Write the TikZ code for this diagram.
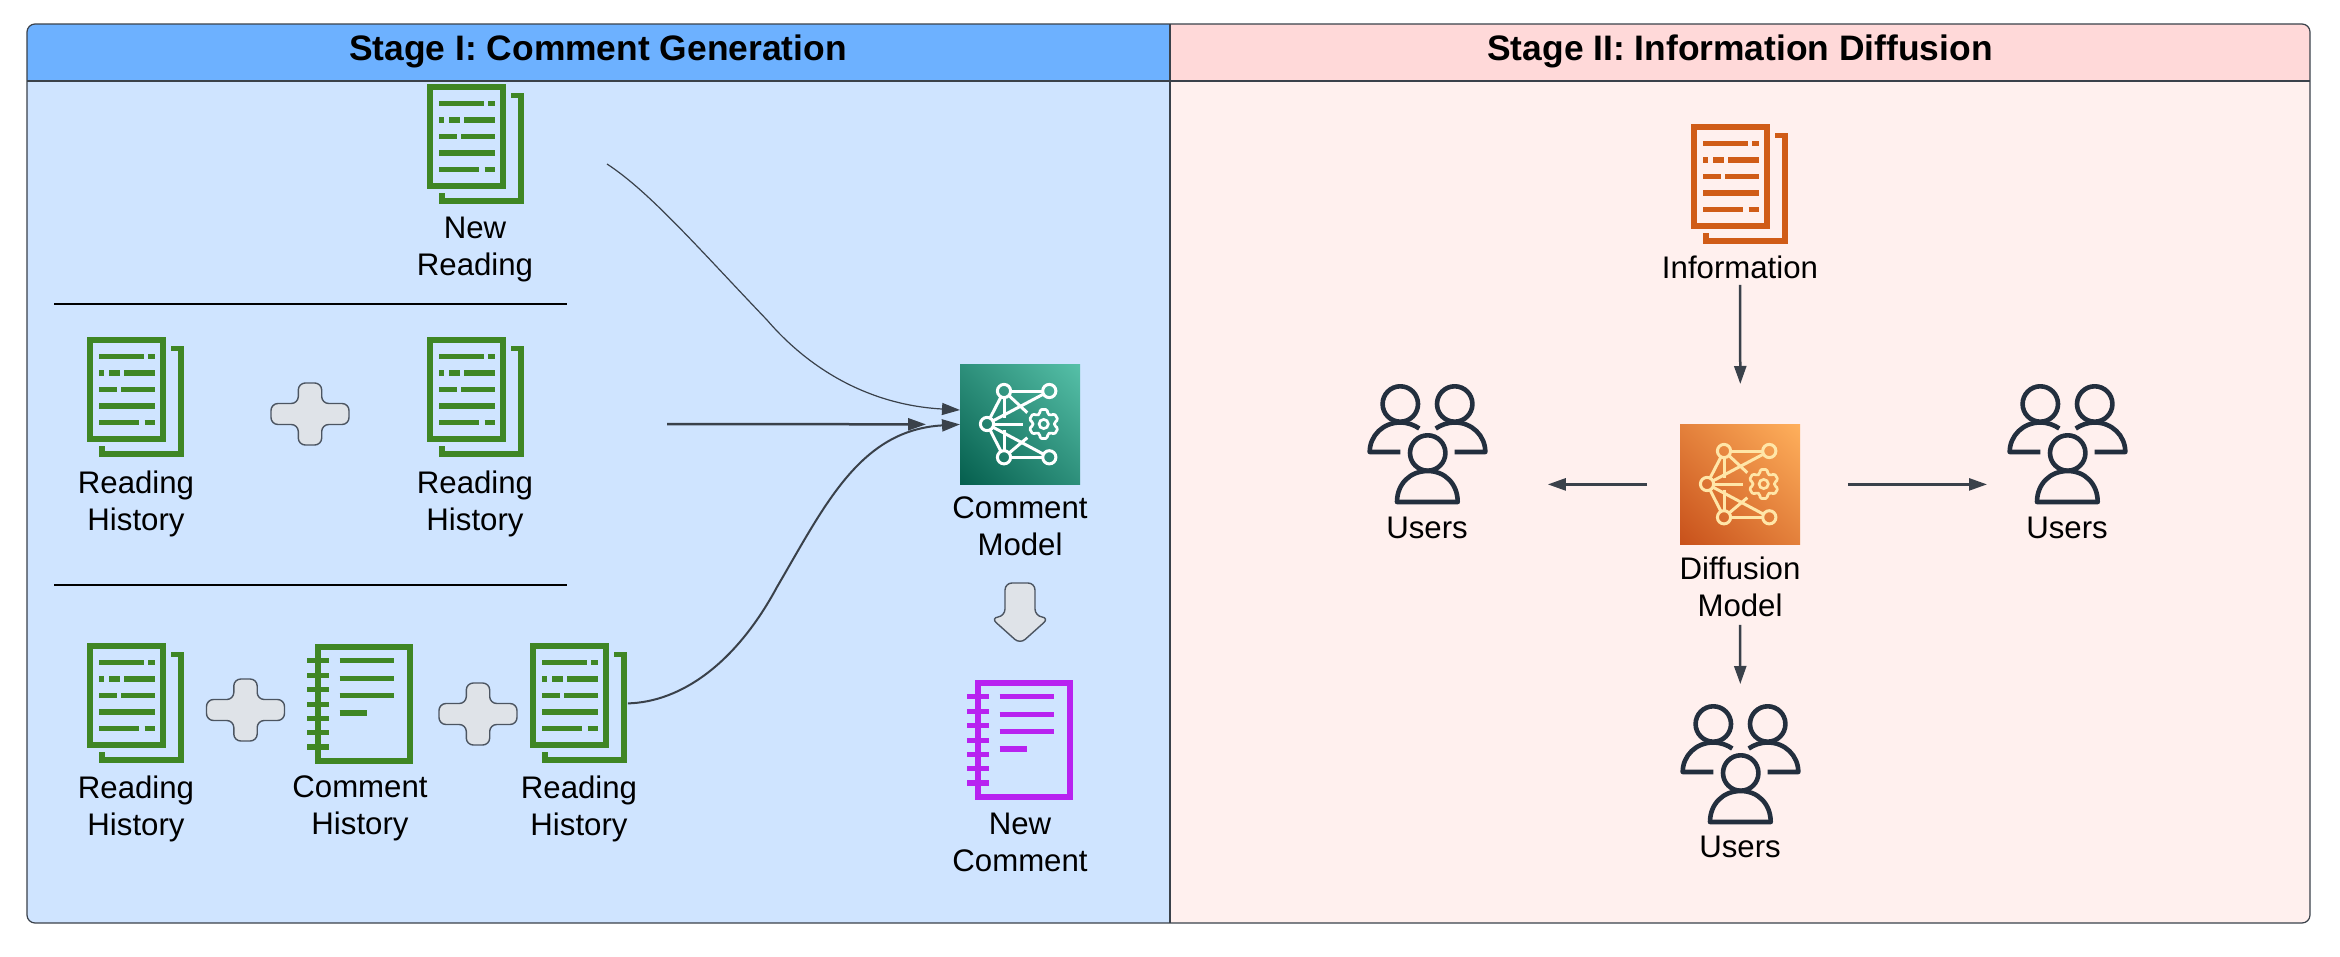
\documentclass[tikz,border=0pt]{standalone}
\usepackage{fontspec}
\setmainfont{Liberation Sans}
\usetikzlibrary{arrows.meta,calc}
\definecolor{hdrblue}{HTML}{6DB1FF}
\definecolor{bodyblue}{HTML}{CFE4FF}
\definecolor{hdrpink}{HTML}{FFD9D9}
\definecolor{bodypink}{HTML}{FFF0EE}
\definecolor{framecol}{HTML}{3A414A}
\definecolor{greenicon}{HTML}{3F8624}
\definecolor{orangeicon}{HTML}{D05C17}
\definecolor{purpleicon}{HTML}{B822F0}
\definecolor{usercol}{HTML}{232F3E}
\definecolor{plusfill}{HTML}{DFE3E8}
\definecolor{plusline}{HTML}{4C5561}
\definecolor{greendark}{HTML}{055F4E}
\definecolor{greenlight}{HTML}{56C0A8}
\definecolor{orangedark}{HTML}{C8511B}
\definecolor{orangelight}{HTML}{FFB05C}
\definecolor{creamline}{HTML}{FFE6A8}
\tikzset{
  lbl/.style={align=center,inner sep=0pt,font=\fontsize{15.6}{18.5}\selectfont,text=black},
  titlelbl/.style={inner sep=0pt,font=\fontsize{17.7}{21}\selectfont\bfseries,text=black},
  iconbox/.style={inner sep=0pt,anchor=north west,minimum width=#1},
  conn/.style={draw=framecol,line width=1.25pt,-{Triangle[length=9pt,width=6pt]}},
  bar/.style={line width=2.75pt},
  net/.style={line width=1.5pt},
  plusshape/.style={draw=plusline,fill=plusfill,line width=.7pt,rounded corners=3.5pt},
}
\newcommand{\docicon}[4]{%
  \node[iconbox=48.5pt,minimum height=60pt] (#1) at (#2,#3) {};
  \begin{scope}[shift={(#2,#3)},draw=#4]
    \draw[line width=2.85pt] (2.7,2.7) rectangle (76,102.3);
    \draw[line width=2.85pt] (84,11.5) -- (94.3,11.5) -- (94.3,117.3) -- (15.3,117.3) -- (15.3,109);
    \draw[bar] (12,19.3) -- (56.7,19.3) (61.3,19.3) -- (67.7,19.3);
    \draw[bar] (12,36) -- (17.3,36) (22.3,36) -- (33.3,36) (37,36) -- (67.7,36);
    \draw[bar] (12,52.3) -- (30.3,52.3) (34.3,52.3) -- (67.7,52.3);
    \draw[bar] (12,69) -- (67.7,69);
    \draw[bar] (12,85.3) -- (52.3,85.3) (57.7,85.3) -- (67.7,85.3);
  \end{scope}}
\newcommand{\noteicon}[4]{%
  \node[iconbox=53pt,minimum height=60pt] (#1) at (#2,#3) {};
  \begin{scope}[shift={(#2,#3)},draw=#4]
    \draw[line width=2.85pt] (11,2.7) rectangle (103.3,117.3);
    \foreach \yy in {16.7,31.3,45.7,60.3,74.3,88.7,103} {\draw[bar] (0,\yy) -- (22.3,\yy);}
    \draw[bar] (32.7,16.7) -- (87,16.7) (32.7,34.3) -- (87,34.3) (32.7,51.7) -- (87,51.7) (32.7,69) -- (60.3,69);
  \end{scope}}
\newcommand{\modelicon}[6]{%
  \node[iconbox=60pt,minimum height=60pt] (#1) at (#2,#3) {};
  \begin{scope}[shift={(#2,#3)}]
    \begin{scope}
      \clip (0,0) rectangle (120,120);
      \shade[left color=#4,right color=#5,shading angle=135] (-25,-25) rectangle (145,145);
    \end{scope}
    \begin{scope}[draw=#6,net]
      \draw (27,60) circle[radius=6.6];
      \draw (44,27) circle[radius=6.6];
      \draw (89.3,27) circle[radius=6.6];
      \draw (44,93.3) circle[radius=6.6];
      \draw (89.3,93.3) circle[radius=6.6];
      \draw[shorten <=3.3pt,shorten >=3.3pt] (44,27) -- (89.3,27);
      \draw[shorten <=3.3pt,shorten >=3.3pt] (44,93.3) -- (89.3,93.3);
      \draw[shorten <=3.3pt,shorten >=3.3pt] (27,60) -- (44,27);
      \draw[shorten <=3.3pt,shorten >=3.3pt] (27,60) -- (44,93.3);
      \draw[shorten <=3.3pt,shorten >=3.3pt] (27,60) -- (89.3,27);
      \draw[shorten <=3.3pt,shorten >=3.3pt] (27,60) -- (89.3,93.3);
      \draw[shorten <=3.3pt] (27,60) -- (63,60);
      \draw[shorten <=3.3pt] (44,27) -- (67.3,48.7);
      \draw[shorten <=3.3pt] (44,93.3) -- (67.3,73.7);
      \draw[shorten <=3.3pt] (44,27) -- (44,54);
      \draw[shorten <=3.3pt] (44,93.3) -- (44,66);
      \begin{scope}[shift={(83.7,60)},line width=1.35pt]
        \draw (0,0) circle[radius=4.6];
        \draw[rounded corners=.8pt,line join=round] (76:15)
          \foreach \a in {90,150,210,270,330,30} { -- (\a-14:15) -- (\a+14:15) -- (\a+21:10.8) -- (\a+39:10.8)} -- cycle;
      \end{scope}
    \end{scope}
  \end{scope}}
\newcommand{\usersicon}[3]{%
  \node[iconbox=60pt,minimum height=60pt] (#1) at (#2,#3) {};
  \begin{scope}[shift={(#2,#3)},draw=usercol,line width=2.3pt,line join=round]
    \draw (33.3,20) circle[radius=17.7];
    \draw (87.7,20) circle[radius=17.7];
    \draw (60.7,69) circle[radius=17.7];
    \draw (33.3,68) -- (2.7,68) .. controls (2.7,51.4) and (16.4,38.5) .. (33,38.5) .. controls (41,38.5) and (47,41) .. (52.3,44.5);
    \draw (87.7,68) -- (118.3,68) .. controls (118.3,51.4) and (104.6,38.5) .. (88,38.5) .. controls (80,38.5) and (74,41) .. (68.7,44.5);
    \draw (30,118) .. controls (30,100) and (43,87) .. (60.7,87) .. controls (78,87) and (90.7,100) .. (90.7,118) -- cycle;
  \end{scope}}
\newcommand{\plusicon}[3]{%
  \node[inner sep=0pt,minimum width=39pt,minimum height=31pt] (#1) at (#2,#3) {};
  \draw[plusshape,shift={(#2,#3)}] (-11.7,-31) -- (11.7,-31) -- (11.7,-10.5) -- (39,-10.5) -- (39,10.5) -- (11.7,10.5) -- (11.7,31) -- (-11.7,31) -- (-11.7,10.5) -- (-39,10.5) -- (-39,-10.5) -- (-11.7,-10.5) -- cycle;}
\begin{document}
\begin{tikzpicture}[x=0.5pt,y=-0.5pt]
\useasboundingbox (0,0) rectangle (2340,957);
\fill[white] (0,0) rectangle (2340,957);
% panels
\begin{scope}
  \clip[rounded corners=4pt] (27,24) rectangle (2310,923);
  \fill[bodyblue] (27,24) rectangle (1170,923);
  \fill[bodypink] (1170,24) rectangle (2310,923);
  \fill[hdrblue] (27,24) rectangle (1170,81);
  \fill[hdrpink] (1170,24) rectangle (2310,81);
\end{scope}
\draw[framecol,line width=.6pt,rounded corners=4pt] (27,24) rectangle (2310,923);
\draw[framecol,line width=.6pt] (27,81) -- (2310,81);
\draw[framecol,line width=.6pt] (1170,24) -- (1170,923);
\node[titlelbl] (t1) at (598,51) {Stage I: Comment Generation};
\node[titlelbl] (t2) at (1740,51) {Stage II: Information Diffusion};
% separators
\coordinate (s1a) at (54,304); \coordinate (s1b) at (567,304);
\coordinate (s2a) at (54,585); \coordinate (s2b) at (567,585);
\draw[black,line width=.6pt] (s1a) -- (s1b);
\draw[black,line width=.6pt] (s2a) -- (s2b);
% left icons
\docicon{newr}{427}{84}{greenicon}
\docicon{rh1}{87}{337}{greenicon}
\docicon{rh2}{427}{337}{greenicon}
\docicon{rh3}{87}{643}{greenicon}
\noteicon{ch}{307}{644}{greenicon}
\docicon{rh4}{530}{643}{greenicon}
\plusicon{p1}{310}{414}
\plusicon{p2}{245.5}{710}
\plusicon{p3}{478}{714}
\modelicon{cm}{960}{364}{greendark}{greenlight}{white}
\noteicon{nc}{967}{680}{purpleicon}
\node[inner sep=0pt,minimum width=27pt,minimum height=30pt] (da) at (1020,612.5) {};
\draw[plusshape,rounded corners=3.5pt] (1005,583) -- (1035,583) -- (1035,616) -- (1049,618) -- (1020,644) -- (991,618) -- (1005,616) -- cycle;
% left labels
\node[lbl] (lnewr) at (475,250) {New\\Reading};
\node[lbl] (lrh1) at (136,503.5) {Reading\\History};
\node[lbl] (lrh2) at (475,503.5) {Reading\\History};
\node[lbl] (lrh3) at (136,808.5) {Reading\\History};
\node[lbl] (lch) at (360,808.5) {Comment\\History};
\node[lbl] (lrh4) at (579,808.5) {Reading\\History};
\node[lbl] (lcm) at (1020,526.5) {Comment\\Model};
\node[lbl] (lnc) at (1020,842) {New\\Comment};
% left connectors
\coordinate (c1s) at (607,164);
\coordinate (cmA) at (960,410);
\coordinate (c2s) at (667,424);
\draw[conn,line width=.6pt] (c1s) .. controls (650,192) and (700,250) .. (767,320) .. controls (810,370) and (870,405) .. (cmA);
\draw[conn,shorten >=17pt] (c2s) -- (cm.west);
\draw[conn,line width=1pt] (rh4.east) .. controls (680,702) and (735,665) .. (777,587) .. controls (825,505) and (860,430) .. (cm.west);
% right
\docicon{info}{1691}{124}{orangeicon}
\node[lbl] (linfo) at (1740,267) {Information};
\modelicon{dm}{1680}{424}{orangedark}{orangelight}{creamline}
\node[lbl] (ldm) at (1740,586.5) {Diffusion\\Model};
\usersicon{ul}{1367}{384}
\usersicon{ur}{2007}{384}
\usersicon{ub}{1680}{704}
\node[lbl] (lul) at (1427,528) {Users};
\node[lbl] (lur) at (2067,528) {Users};
\node[lbl] (lub) at (1740,847) {Users};
\draw[conn,shorten <=3pt,shorten >=20pt] (linfo.south) -- (dm.north);
\draw[conn,shorten <=16.5pt,shorten >=30pt] (dm.west) -- (dm.west -| ul.east);
\draw[conn,shorten <=23.5pt,shorten >=10pt] (dm.east) -- (dm.east -| ur.west);
\draw[conn,shorten <=4pt,shorten >=10pt] (ldm.south) -- (ub.north);
\end{tikzpicture}
\end{document}
